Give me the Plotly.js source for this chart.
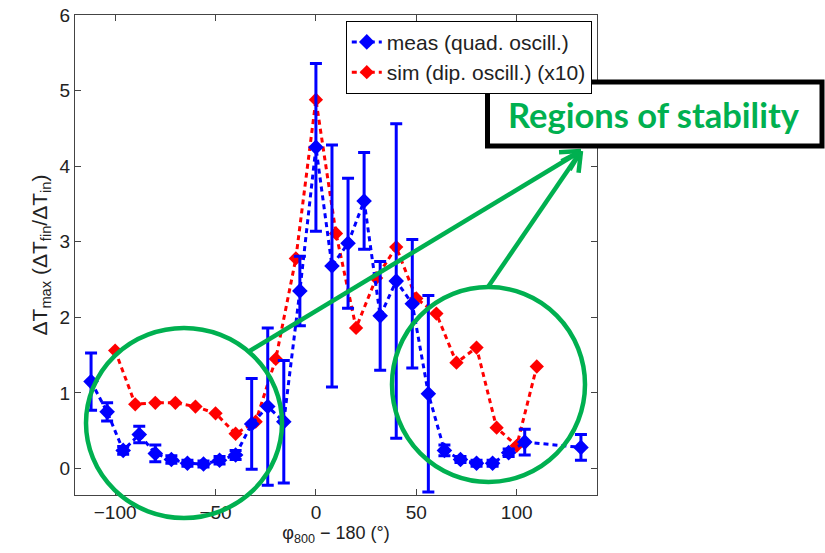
<!DOCTYPE html>
<html>
<head>
<meta charset="utf-8">
<script src="https://cdn.plot.ly/plotly-3.0.1.min.js"></script>
<style>html,body{margin:0;padding:0;background:#fff;}#chart{width:825px;height:553px;}</style>
</head>
<body>
<div id="chart"></div>
<script>
// Measured data (quadrupole oscillation)
var measX = [-112,-104,-96,-88,-80,-72,-64,-56,-48,-40,-32,-24,-16,-8,0,8,16,24,32,40,48,56,64,72,80,88,96,104,132];
var measY = [1.15,0.75,0.24,0.45,0.20,0.12,0.07,0.06,0.11,0.18,0.59,0.82,0.62,2.35,4.25,2.68,2.98,3.54,2.02,2.48,2.18,0.99,0.24,0.12,0.07,0.07,0.21,0.35,0.28];
var measErr = [0.38,0.12,0.05,0.11,0.11,0.05,0.04,0.04,0.05,0.06,0.60,1.04,0.81,0.46,1.11,1.60,0.86,0.64,0.72,2.08,0.85,1.30,0.07,0.04,0.04,0.04,0.05,0.17,0.17];
// Simulated data (dipole oscillation, x10)
var simX = [-100,-90,-80,-70,-60,-50,-40,-30,-20,-10,0,10,20,30,40,50,60,70,80,90,100,110];
var simY = [1.56,0.85,0.87,0.87,0.82,0.73,0.46,0.62,1.45,2.78,4.88,3.11,1.86,2.52,2.93,2.25,2.05,1.40,1.60,0.54,0.30,1.35];
var legendNames = ['meas (quad. oscill.)', 'sim (dip. oscill.) (x10)'];
var xTicks = [-100,-50,0,50,100];
var yTicks = [0,1,2,3,4,5,6];

var W = 825, H = 553;
var M = {l:75, r:228, t:15, b:58};
var pw = W - M.l - M.r, ph = H - M.t - M.b;
function px(x){ return (x - M.l)/pw; }
function py(y){ return (H - M.b - y)/ph; }

var green = '#00B050';

var traces = [
  {x: simX, y: simY, name: legendNames[1], type:'scatter', mode:'lines+markers',
   line:{color:'#ff0000', dash:'5px,4px', width:3},
   marker:{symbol:'diamond', size:11, color:'#ff0000'}},
  {x: measX, y: measY, name: legendNames[0], type:'scatter', mode:'lines+markers',
   line:{color:'#0000ff', dash:'5px,4px', width:3},
   marker:{symbol:'diamond', size:12, color:'#0000ff'},
   error_y:{type:'data', array: measErr, visible:true, color:'#0000ff', thickness:3, width:6}}
];

var shapes = [];
// circles
shapes.push({type:'circle', xref:'paper', yref:'paper', x0:px(86), x1:px(282), y0:py(518), y1:py(328), line:{color:green, width:4.5}});
shapes.push({type:'circle', xref:'paper', yref:'paper', x0:px(392), x1:px(585), y0:py(482), y1:py(287), line:{color:green, width:4.5}});
// arrows
function arrow(x0,y0,x1,y1){
  shapes.push({type:'line', xref:'paper', yref:'paper', x0:px(x0), y0:py(y0), x1:px(x1), y1:py(y1), line:{color:green, width:4.5}});
  var dx = x0-x1, dy = y0-y1, L = Math.sqrt(dx*dx+dy*dy); dx/=L; dy/=L;
  var a = 28*Math.PI/180, len = 22;
  [a,-a].forEach(function(t){
    var rx = dx*Math.cos(t) - dy*Math.sin(t), ry = dx*Math.sin(t) + dy*Math.cos(t);
    shapes.push({type:'line', xref:'paper', yref:'paper', x0:px(x1), y0:py(y1), x1:px(x1+rx*len), y1:py(y1+ry*len), line:{color:green, width:4.5}});
  });
}
arrow(248,352,581,151);
arrow(488,287,581,151);
// text box
shapes.push({type:'rect', xref:'paper', yref:'paper', x0:px(487.5), x1:px(822), y0:py(146), y1:py(82), fillcolor:'#ffffff', line:{color:'#000', width:5}});

var layout = {
  width: W, height: H,
  margin: M,
  paper_bgcolor:'#fff', plot_bgcolor:'#fff',
  font:{family:'Liberation Sans, Arial, sans-serif', size:19, color:'#222'},
  showlegend:true,
  legend:{x:0.99, y:0.988, xanchor:'right', yanchor:'top', bgcolor:'#fff', bordercolor:'#000', borderwidth:1,
    font:{size:21, color:'#222'}, traceorder:'reversed', tracegroupgap:0, itemwidth:30},
  xaxis:{range:[-120,140], tickvals:xTicks, ticktext:xTicks.map(function(v){return v<0?'\u2212'+(-v):String(v);}),
    ticks:'inside', ticklen:6, tickcolor:'#444', showline:true, linecolor:'#444', linewidth:1, mirror:'ticks',
    showgrid:false, zeroline:false, tickfont:{size:19},
    title:{text:'\u03c6<sub>800</sub> \u2212 180 (\u00b0)', font:{size:18}, standoff:0}},
  yaxis:{range:[-0.35,6], tickvals:yTicks,
    ticks:'inside', ticklen:6, tickcolor:'#444', showline:true, linecolor:'#444', linewidth:1, mirror:'ticks',
    showgrid:false, zeroline:false, tickfont:{size:19},
    title:{text:'\u0394T<sub>max</sub> (\u0394T<sub>fin</sub>/\u0394T<sub>in</sub>)', font:{size:21}, standoff:6}},
  shapes: shapes,
  annotations:[
    {xref:'paper', yref:'paper', x:px(654), y:py(114), text:'<b>Regions of stability</b>', showarrow:false,
     font:{family:'Lato, Open Sans, sans-serif', size:34.5, color:green}, xanchor:'center', yanchor:'middle'}
  ]
};

Plotly.newPlot('chart', traces, layout, {displayModeBar:false, staticPlot:true});
</script>
</body>
</html>
